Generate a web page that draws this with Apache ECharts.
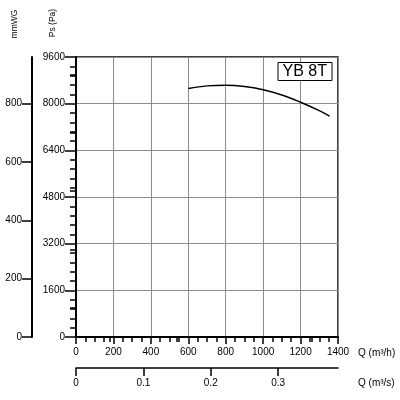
<!DOCTYPE html>
<html>
<head>
<meta charset="utf-8">
<script src="https://cdn.jsdelivr.net/npm/echarts@6/dist/echarts.min.js"></script>
<style>
  html, body { margin: 0; padding: 0; background: #fff; }
  #chart { width: 400px; height: 400px; }
</style>
</head>
<body>
<div id="chart"></div>
<script>
// fan curve YB 8T : Q (m³/h) -> Ps (Pa)
var flowM3h = [600, 700, 800, 900, 1000, 1100, 1200, 1300, 1355];
var pressurePa = [8520, 8610, 8630, 8590, 8480, 8300, 8050, 7760, 7570];

// secondary axes tick values
var mmwgMajor = [0, 200, 400, 600, 800];
var mmwgMinor = [100, 300, 500, 700, 900];
var qsMajor = [0, 0.1, 0.2, 0.3];
var qsMinor = [0.05, 0.15, 0.25, 0.35];

var FONT = 'Liberation Sans, Arial, sans-serif';
var black = '#000';
var gridGray = '#8c8c8c';

var chart = echarts.init(document.getElementById('chart'));

function lineStyle(w) {
    return { color: black, width: w };
}
// plain numbers, no thousands separator
function plain(v) {
    return String(v);
}

var option = {
    animation: false,
    textStyle: { fontFamily: FONT },
    title: {
        text: 'YB 8T',
        right: 68,
        top: 62,
        padding: [2, 5, 1, 5],
        borderColor: black,
        borderWidth: 1,
        backgroundColor: '#fff',
        textStyle: { fontFamily: FONT, fontSize: 16, fontWeight: 'normal', color: black }
    },
    grid: {
        left: 76, right: 62, top: 57, bottom: 63,
        show: true, borderColor: black, borderWidth: 1.5
    },
    graphic: [
        {
            type: 'text', x: 53, y: 23, rotation: Math.PI / 2,
            style: { text: 'Ps (Pa)', fill: black, font: '8.5px ' + FONT,
                     textAlign: 'center', textVerticalAlign: 'middle', align: 'center', verticalAlign: 'middle' }
        },
        {
            type: 'text', x: 15, y: 24, rotation: Math.PI / 2,
            style: { text: 'mmWG', fill: black, font: '8.5px ' + FONT,
                     textAlign: 'center', textVerticalAlign: 'middle', align: 'center', verticalAlign: 'middle' }
        }
    ],
    xAxis: [
        {
            type: 'value', position: 'bottom',
            min: 0, max: 1400, interval: 200,
            name: 'Q (m³/h)', nameLocation: 'end', nameGap: 20,
            nameTextStyle: { fontSize: 10, color: black, verticalAlign: 'top', padding: [11, 0, 0, 0] },
            axisLine: { show: true, onZero: false, lineStyle: lineStyle(2) },
            axisTick: { show: true, inside: false, length: 7, lineStyle: lineStyle(1.5) },
            minorTick: { show: true, splitNumber: 4, length: 5, lineStyle: lineStyle(1.5) },
            axisLabel: { fontSize: 10, color: black, margin: 10, formatter: plain },
            splitLine: { show: true, lineStyle: { color: gridGray, width: 1 } }
        },
        {
            type: 'value', position: 'bottom', offset: 31,
            min: 0, max: 1400 / 3600,
            name: 'Q (m³/s)', nameLocation: 'end', nameGap: 20,
            nameTextStyle: { fontSize: 10, color: black, verticalAlign: 'top', padding: [10, 0, 0, 0] },
            axisLine: { show: true, onZero: false, lineStyle: lineStyle(1.5) },
            axisTick: { show: true, inside: false, length: 8, customValues: qsMajor, lineStyle: lineStyle(1.5) },
            axisLabel: { fontSize: 10, color: black, margin: 10, customValues: qsMajor, formatter: plain },
            splitLine: { show: false }
        },
        {
            type: 'value', position: 'bottom', offset: 31,
            min: 0, max: 1400 / 3600,
            axisLine: { show: false },
            axisTick: { show: true, inside: false, length: 5, customValues: qsMinor, lineStyle: lineStyle(1.5) },
            axisLabel: { show: false },
            splitLine: { show: false }
        }
    ],
    yAxis: [
        {
            type: 'value', position: 'left',
            min: 0, max: 9600, interval: 1600,
            axisLine: { show: true, onZero: false, lineStyle: lineStyle(2) },
            axisTick: { show: true, inside: false, length: 11, lineStyle: lineStyle(1.5) },
            minorTick: { show: true, splitNumber: 5, length: 6, lineStyle: lineStyle(1.5) },
            axisLabel: { fontSize: 10, color: black, margin: 11, formatter: plain },
            splitLine: { show: true, lineStyle: { color: gridGray, width: 1 } }
        },
        {
            type: 'value', position: 'left', offset: 44,
            min: 0, max: 960,
            axisLine: { show: true, onZero: false, lineStyle: lineStyle(2) },
            axisTick: { show: true, inside: false, length: 10, customValues: mmwgMajor, lineStyle: lineStyle(1.5) },
            axisLabel: { fontSize: 10, color: black, margin: 10, customValues: mmwgMajor, formatter: plain },
            splitLine: { show: false }
        },
        {
            type: 'value', position: 'left', offset: 44,
            min: 0, max: 960,
            axisLine: { show: false },
            axisTick: { show: true, inside: false, length: 6, customValues: mmwgMinor, lineStyle: lineStyle(1.5) },
            axisLabel: { show: false },
            splitLine: { show: false }
        }
    ],
    series: [
        {
            name: 'YB 8T',
            type: 'line',
            xAxisIndex: 0,
            yAxisIndex: 0,
            smooth: 0.4,
            showSymbol: false,
            lineStyle: { color: black, width: 1.5 },
            data: flowM3h.map(function (q, i) { return [q, pressurePa[i]]; })
        }
    ]
};

chart.setOption(option);
window.addEventListener('resize', function () { chart.resize(); });
</script>
</body>
</html>
